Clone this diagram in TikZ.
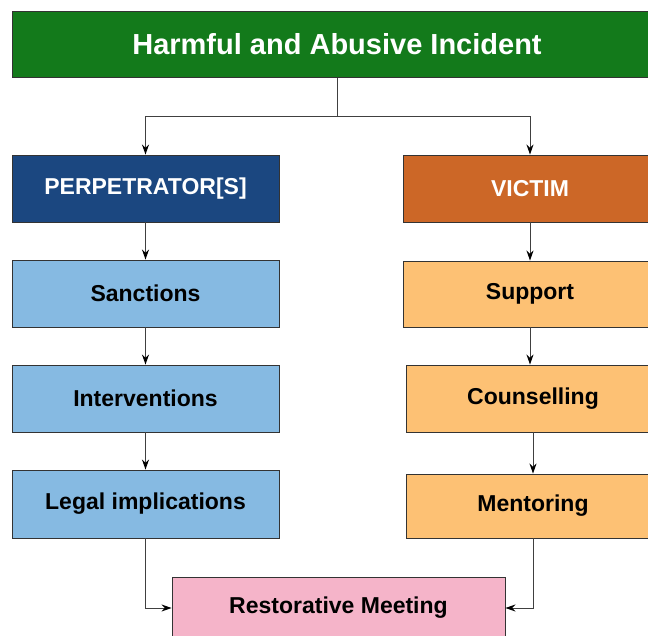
\documentclass[tikz,border=0pt]{standalone}
\usepackage{fontspec}
\setmainfont{Liberation Sans}
\usetikzlibrary{arrows.meta}
\definecolor{incidentgreen}{HTML}{137A1B}
\definecolor{perpblue}{HTML}{1B4780}
\definecolor{victimorange}{HTML}{CC6727}
\definecolor{lightblue}{HTML}{86BAE2}
\definecolor{lightorange}{HTML}{FDC174}
\definecolor{meetingpink}{HTML}{F5B4C9}
\begin{document}
\begin{tikzpicture}[x=1pt,y=-1pt,
  box/.style={draw=black!80, line width=0.9pt, inner sep=0pt, minimum width=267, minimum height=67,
    font=\bfseries\fontsize{23}{27}\selectfont},
  link/.style={draw=black!75, line width=1pt, -{Stealth[length=10pt,width=7pt,black]}}]
\useasboundingbox (0,0) rectangle (648,636);
\clip (0,0) rectangle (648,636);

\node[box, fill=incidentgreen, text=white, minimum width=650, minimum height=66,
  font=\bfseries\fontsize{29}{33}\selectfont] (incident) at (337,44.5) {\raisebox{2pt}{Harmful and Abusive Incident}};

\node[box, fill=perpblue, text=white] (perp) at (145.5,188.5) {PERPETRATOR[S]};
\node[box, fill=victimorange, text=white, minimum width=254] (victim) at (530,188.5) {VICTIM};

\node[box, fill=lightblue] (sanctions) at (145.5,293.5) {Sanctions};
\node[box, fill=lightblue] (interventions) at (145.5,398.5) {Interventions};
\node[box, fill=lightblue, minimum height=68] (legal) at (145.5,504) {Legal implications};

\node[box, fill=lightorange, minimum width=254, minimum height=66] (support) at (530,294) {Support};
\node[box, fill=lightorange, minimum width=254] (counselling) at (533,398.5) {Counselling};
\node[box, fill=lightorange, minimum width=254, minimum height=64] (mentoring) at (533,506) {Mentoring};

\node[box, fill=meetingpink, minimum width=333, minimum height=62] (meeting) at (338.5,608) {Restorative Meeting};

\coordinate (fork) at (337,117);
\draw[draw=black!75, line width=1pt] (incident.south) -- (fork);
\draw[link] (fork) -| (perp.north);
\draw[link] (fork) -| (victim.north);

\draw[link] (perp) -- (sanctions);
\draw[link] (sanctions) -- (interventions);
\draw[link] (interventions) -- (legal);

\draw[link] (victim) -- (support);
\draw[link] (support.south) -- (support.south |- counselling.north);
\draw[link] (counselling.south -| mentoring) -- (mentoring.north);

\draw[link] (legal.south) |- (meeting.west);
\draw[link] (mentoring.south) |- (meeting.east);
\end{tikzpicture}
\end{document}
